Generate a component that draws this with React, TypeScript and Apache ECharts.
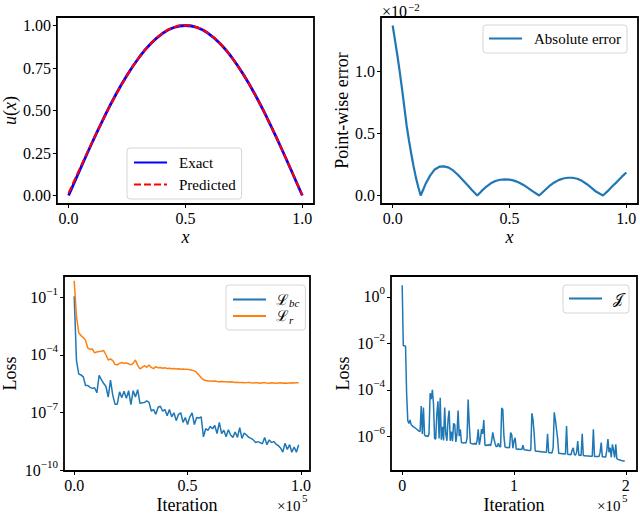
import React, { useEffect, useRef } from "react";
import * as echarts from "echarts";

// ---------- Data ----------
// Top-left: u(x)
const uX = [0, 0.05, 0.1, 0.15, 0.2, 0.25, 0.3, 0.35, 0.4, 0.45, 0.5, 0.55, 0.6, 0.65, 0.7, 0.75, 0.8, 0.85, 0.9, 0.95, 1.0];
const uExact = [0, 0.156, 0.309, 0.454, 0.588, 0.707, 0.809, 0.891, 0.951, 0.988, 1.0, 0.988, 0.951, 0.891, 0.809, 0.707, 0.588, 0.454, 0.309, 0.156, 0];
const uPredicted = [0.014, 0.164, 0.311, 0.453, 0.586, 0.705, 0.808, 0.891, 0.952, 0.989, 1.001, 0.989, 0.952, 0.891, 0.808, 0.706, 0.587, 0.453, 0.309, 0.157, 0.002];

// Top-right: point-wise absolute error (units of 1e-2)
const errX = [0, 0.01, 0.02, 0.03, 0.04, 0.05, 0.06, 0.07, 0.08, 0.09, 0.1, 0.11, 0.12, 0.14, 0.16, 0.18, 0.2, 0.22, 0.24, 0.26, 0.28, 0.3, 0.32, 0.34, 0.362, 0.38, 0.4, 0.42, 0.44, 0.46, 0.48, 0.5, 0.52, 0.54, 0.56, 0.58, 0.6, 0.627, 0.65, 0.67, 0.69, 0.71, 0.73, 0.75, 0.77, 0.79, 0.81, 0.83, 0.85, 0.87, 0.9, 0.92, 0.94, 0.96, 0.98, 1.0];
const errVal = [1.37, 1.25, 1.13, 1.0, 0.86, 0.71, 0.56, 0.44, 0.33, 0.23, 0.14, 0.065, 0, 0.09, 0.16, 0.21, 0.232, 0.235, 0.225, 0.2, 0.165, 0.125, 0.085, 0.042, 0, 0.035, 0.07, 0.098, 0.117, 0.127, 0.13, 0.128, 0.12, 0.105, 0.085, 0.06, 0.033, 0, 0.04, 0.075, 0.103, 0.124, 0.137, 0.143, 0.143, 0.135, 0.118, 0.093, 0.063, 0.032, 0, 0.035, 0.075, 0.11, 0.15, 0.185];

// Bottom-left: log10 of losses, one value every 1000 iterations (0 .. 99000)
const lossBcLog10 = [
  -0.95, -4.3, -5.0, -5.05, -5.15, -5.6, -5.6, -5.7, -5.75, -5.72,
  -5.98, -5.07, -5.3, -5.5, -5.65, -6.2, -5.32, -6.1, -6.57, -6.57,
  -5.93, -6.23, -5.9, -6.27, -5.87, -6.6, -5.87, -6.2, -5.82, -6.53,
  -6.5, -6.48, -6.4, -6.48, -6.93, -6.85, -7.1, -6.73, -6.68, -6.93,
  -6.85, -7.18, -6.85, -7.23, -7.02, -7.43, -7.1, -7.02, -7.52, -7.27,
  -7.63, -7.23, -7.02, -7.63, -7.27, -7.3, -7.23, -8.27, -7.85, -7.93,
  -7.73, -7.85, -7.68, -8.1, -7.52, -8.1, -7.93, -8.27, -7.9, -8.18,
  -8.3, -8.02, -8.3, -7.8, -8.35, -8.07, -8.18, -8.3, -8.35, -8.43,
  -8.57, -8.52, -8.57, -8.63, -8.3, -8.68, -8.43, -8.57, -8.52, -8.65,
  -8.73, -8.85, -9.07, -8.6, -8.93, -8.68, -9.07, -8.8, -9.07, -8.68,
];
const lossRLog10 = [
  -0.15, -2.0, -2.85, -3.0, -3.1, -3.25, -3.65, -3.72, -3.7, -3.9,
  -3.85, -3.83, -3.82, -3.78, -4.0, -4.27, -4.22, -4.3, -4.5, -4.53,
  -4.45, -4.4, -4.45, -4.42, -4.47, -4.53, -4.45, -4.27, -4.55, -4.73,
  -4.65, -4.57, -4.65, -4.53, -4.66, -4.72, -4.62, -4.68, -4.66, -4.7,
  -4.68, -4.72, -4.7, -4.73, -4.72, -4.74, -4.73, -4.75, -4.74, -4.76,
  -4.76, -4.78, -4.8, -4.84, -4.92, -5.05, -5.2, -5.3, -5.34, -5.36,
  -5.37, -5.38, -5.37, -5.39, -5.4, -5.39, -5.41, -5.4, -5.42, -5.41,
  -5.42, -5.44, -5.43, -5.45, -5.44, -5.46, -5.45, -5.44, -5.46, -5.47,
  -5.45, -5.46, -5.48, -5.46, -5.45, -5.47, -5.48, -5.46, -5.47, -5.48,
  -5.47, -5.46, -5.48, -5.47, -5.48, -5.47, -5.46, -5.47, -5.46, -5.46,
];

// Bottom-right: log10 of loss J, one value every 1000 iterations (0 .. 199000)
const lossJLog10 = [
  0.5, -2.1, -2.1, -2.12, -4.2, -5.32, -5.45, -5.3, -5.5, -5.55,
  -5.6, -5.62, -5.66, -5.7, -5.74, -5.78, -5.8, -4.7, -5.9, -4.77,
  -5.95, -6.0, -5.98, -6.02, -5.9, -4.15, -4.4, -4.0, -4.6, -6.1,
  -6.12, -5.04, -4.5, -6.1, -4.35, -6.15, -5.6, -6.18, -4.77, -5.9,
  -6.2, -5.3, -4.9, -6.2, -5.8, -6.22, -5.45, -5.5, -6.25, -5.9,
  -4.9, -6.0, -5.7, -6.27, -6.28, -6.3, -6.28, -6.3, -6.1, -4.42,
  -5.5, -6.3, -6.32, -6.33, -6.35, -6.3, -6.36, -6.2, -5.7, -6.37,
  -6.1, -5.7, -5.9, -5.3, -6.38, -6.4, -6.38, -6.4, -6.35, -6.42,
  -6.2, -5.84, -6.1, -6.3, -6.44, -6.45, -6.3, -6.45, -6.46, -4.79,
  -4.85, -6.0, -6.47, -6.48, -6.5, -6.48, -6.5, -5.84, -5.94, -6.52,
  -6.2, -6.07, -6.55, -6.56, -6.55, -6.57, -6.56, -6.58, -6.39, -6.58,
  -6.6, -6.6, -6.61, -6.62, -6.62, -6.6, -5.01, -5.3, -5.87, -6.64,
  -6.65, -6.65, -6.66, -6.66, -6.67, -6.67, -6.68, -6.68, -6.69, -6.69,
  -5.9, -6.7, -6.71, -6.71, -6.72, -6.5, -4.97, -5.3, -5.7, -6.1,
  -6.74, -6.75, -6.75, -6.76, -6.76, -6.77, -6.77, -5.56, -6.78, -6.79,
  -6.79, -6.8, -6.6, -6.5, -6.8, -6.81, -6.7, -6.21, -6.82, -6.82,
  -6.83, -5.9, -6.83, -6.84, -6.84, -6.85, -6.85, -6.85, -6.86, -6.86,
  -6.86, -5.7, -6.87, -6.87, -6.88, -6.88, -6.88, -6.7, -6.28, -6.89,
  -6.89, -6.9, -6.9, -6.6, -6.12, -6.7, -6.5, -6.91, -6.35, -6.6,
  -6.92, -6.35, -6.97, -7.0, -7.02, -7.03, -7.05, -7.06, -7.07, -7.08,
];
const ITER_STEP = 1000; // iterations between recorded losses

// Tick values
const tlXTicks = [0, 0.5, 1.0];
const tlYTicks = [0, 0.25, 0.5, 0.75, 1.0];
const trXTicks = [0, 0.5, 1.0];
const trYTicks = [0, 0.5, 1.0];
const blXTicks = [0, 0.5, 1.0];
const blYTicks = [-10, -7, -4, -1];
const brXTicks = [0, 1, 2];
const brYTicks = [-6, -4, -2, 0];

// ---------- Styling ----------
const FONT = "'Liberation Serif', 'DejaVu Serif', serif";
const BLUE = "#1f77b4";
const ORANGE = "#ff7f0e";

const legendNames: Record<string, string> = {
  Exact: "Exact",
  Predicted: "Predicted",
  "Absolute error": "Absolute error",
  Lbc: "{m|ℒ}{s|bc}",
  Lr: "{m|ℒ}{s|r}",
  J: "{m|𝒥}",
};

function logLabel(v: number) {
  const e = v === 0 ? "0" : (v < 0 ? "−" : "") + Math.abs(v);
  return `{b|10}{s|${e}}`;
}

const logRich = {
  b: { fontFamily: FONT, fontSize: 16, color: "#000", lineHeight: 24, verticalAlign: "middle" },
  s: { fontFamily: FONT, fontSize: 11, color: "#000", lineHeight: 13, verticalAlign: "top" },
};

function xAxis(gridIndex: number, min: number, max: number, ticks: number[], fmt: (v: number) => string, name: string, nameGap: number, italic: boolean) {
  return {
    type: "value",
    gridIndex,
    min,
    max,
    axisLine: { show: false, onZero: false },
    splitLine: { show: false },
    axisTick: { show: true, inside: false, length: 4, customValues: ticks, lineStyle: { color: "#000", width: 1 } },
    axisLabel: { customValues: ticks, formatter: fmt, color: "#000", fontFamily: FONT, fontSize: 16, margin: 6 },
    name,
    nameLocation: "middle",
    nameGap,
    nameTextStyle: { fontFamily: FONT, fontSize: 18, color: "#000", fontStyle: italic ? "italic" : "normal", verticalAlign: "top" },
  };
}

function yAxis(gridIndex: number, min: number, max: number, ticks: number[], fmt: (v: number) => string, name: string, nameGap: number, rich?: any, nameRich?: any) {
  return {
    type: "value",
    gridIndex,
    min,
    max,
    axisLine: { show: false, onZero: false },
    splitLine: { show: false },
    axisTick: { show: true, inside: false, length: 4, customValues: ticks, lineStyle: { color: "#000", width: 1 } },
    axisLabel: { customValues: ticks, formatter: fmt, color: "#000", fontFamily: FONT, fontSize: 16, margin: 6, rich },
    name,
    nameLocation: "middle",
    nameGap,
    nameTextStyle: { fontFamily: FONT, fontSize: 18, color: "#000", rich: nameRich },
  };
}

function legend(names: string[], left: number, top: number, padding: number[], itemGap: number, textPad: number) {
  return {
    data: names,
    orient: "vertical",
    left,
    top,
    padding,
    itemGap,
    itemWidth: 33,
    itemHeight: 14,
    selectedMode: false,
    itemStyle: { opacity: 0 },
    backgroundColor: "rgba(255,255,255,0.8)",
    borderColor: "#d6d6d6",
    borderWidth: 1,
    borderRadius: 3,
    formatter: (n: string) => legendNames[n] ?? n,
    textStyle: {
      fontFamily: FONT,
      fontSize: 15,
      color: "#000",
      padding: [0, 0, 0, textPad],
      rich: {
        m: { fontFamily: "'DejaVu Serif', serif", fontSize: 15, color: "#000", lineHeight: 18, verticalAlign: "middle" },
        s: { fontFamily: FONT, fontSize: 11, fontStyle: "italic", color: "#000", lineHeight: 11, verticalAlign: "bottom" },
      },
    },
  };
}

function buildOption() {
  const gridBase = { show: true, borderColor: "#000", borderWidth: 1.8, backgroundColor: "transparent", containLabel: false };
  const f1 = (v: number) => v.toFixed(1);
  const f2 = (v: number) => v.toFixed(2);
  return {
    animation: false,
    grid: [
      { ...gridBase, left: 56, top: 17, width: 258, height: 187 },
      { ...gridBase, left: 381, top: 17, width: 257, height: 187 },
      { ...gridBase, left: 63, top: 276, width: 247, height: 203 },
      { ...gridBase, left: 391, top: 276, width: 246, height: 203 },
    ],
    xAxis: [
      xAxis(0, -0.05, 1.05, tlXTicks, f1, "x", 24, true),
      xAxis(1, -0.05, 1.05, trXTicks, f1, "x", 24, true),
      xAxis(2, -0.045, 1.04, blXTicks, f1, "Iteration", 25, false),
      xAxis(3, -0.1, 2.1, brXTicks, (v: number) => String(v), "Iteration", 25, false),
    ],
    yAxis: [
      yAxis(0, -0.05, 1.05, tlYTicks, f2, "{i|u}({i|x})", 36, undefined, {
        i: { fontFamily: FONT, fontSize: 18, fontStyle: "italic", color: "#000" },
      }),
      yAxis(1, -0.0685, 1.4385, trYTicks, f1, "Point-wise error", 26),
      yAxis(2, -10.05, 0.1, blYTicks, logLabel, "Loss", 45, logRich),
      yAxis(3, -7.5, 0.9, brYTicks, logLabel, "Loss", 39, logRich),
    ],
    legend: [
      legend(["Exact", "Predicted"], 127, 148, [7, 6, 7, 6], 7, 7),
      legend(["Absolute error"], 483, 25, [6, 6, 7, 5], 5, 7),
      legend(["Lbc", "Lr"], 226, 285, [7, 6, 5, 6], 0, 5),
      legend(["J"], 563, 285, [6, 6, 7, 5], 5, 6),
    ],
    series: [
      {
        name: "Exact", type: "line", xAxisIndex: 0, yAxisIndex: 0, symbol: "none", smooth: true,
        data: uX.map((x, i) => [x, uExact[i]]),
        itemStyle: { color: "#0000ff" }, lineStyle: { color: "#0000ff", width: 2.8 },
      },
      {
        name: "Predicted", type: "line", xAxisIndex: 0, yAxisIndex: 0, symbol: "none", smooth: true,
        data: uX.map((x, i) => [x, uPredicted[i]]),
        itemStyle: { color: "#ff0000" }, lineStyle: { color: "#ff0000", width: 2.2, type: [7, 3] },
      },
      {
        name: "Absolute error", type: "line", xAxisIndex: 1, yAxisIndex: 1, symbol: "none",
        data: errX.map((x, i) => [x, errVal[i]]),
        itemStyle: { color: BLUE }, lineStyle: { color: BLUE, width: 2.2 },
      },
      {
        name: "Lbc", type: "line", xAxisIndex: 2, yAxisIndex: 2, symbol: "none",
        data: lossBcLog10.map((v, i) => [(i * ITER_STEP) / 1e5, v]),
        itemStyle: { color: BLUE }, lineStyle: { color: BLUE, width: 1.5 },
      },
      {
        name: "Lr", type: "line", xAxisIndex: 2, yAxisIndex: 2, symbol: "none",
        data: lossRLog10.map((v, i) => [(i * ITER_STEP) / 1e5, v]),
        itemStyle: { color: ORANGE }, lineStyle: { color: ORANGE, width: 1.5 },
      },
      {
        name: "J", type: "line", xAxisIndex: 3, yAxisIndex: 3, symbol: "none",
        data: lossJLog10.map((v, i) => [(i * ITER_STEP) / 1e5, v]),
        itemStyle: { color: BLUE }, lineStyle: { color: BLUE, width: 1.5 },
      },
    ],
    graphic: [
      { type: "text", x: 382, y: 11, style: { text: "×10", font: `16px ${FONT}`, fill: "#000", verticalAlign: "middle" } },
      { type: "text", x: 408, y: 7, style: { text: "−2", font: `11px ${FONT}`, fill: "#000", verticalAlign: "middle" } },
      { type: "text", x: 277, y: 506, style: { text: "×10", font: `15px ${FONT}`, fill: "#000", verticalAlign: "middle" } },
      { type: "text", x: 302, y: 498, style: { text: "5", font: `11px ${FONT}`, fill: "#000", verticalAlign: "middle" } },
      { type: "text", x: 597, y: 506, style: { text: "×10", font: `15px ${FONT}`, fill: "#000", verticalAlign: "middle" } },
      { type: "text", x: 622, y: 498, style: { text: "5", font: `11px ${FONT}`, fill: "#000", verticalAlign: "middle" } },
    ],
  };
}

export default function App() {
  const ref = useRef<HTMLDivElement>(null);
  useEffect(() => {
    if (!ref.current) return;
    const chart = echarts.init(ref.current, null, { renderer: "svg" });
    chart.setOption(buildOption() as any);
    return () => chart.dispose();
  }, []);
  return <div ref={ref} style={{ position: "absolute", left: 0, top: 0, width: 640, height: 515 }} />;
}
